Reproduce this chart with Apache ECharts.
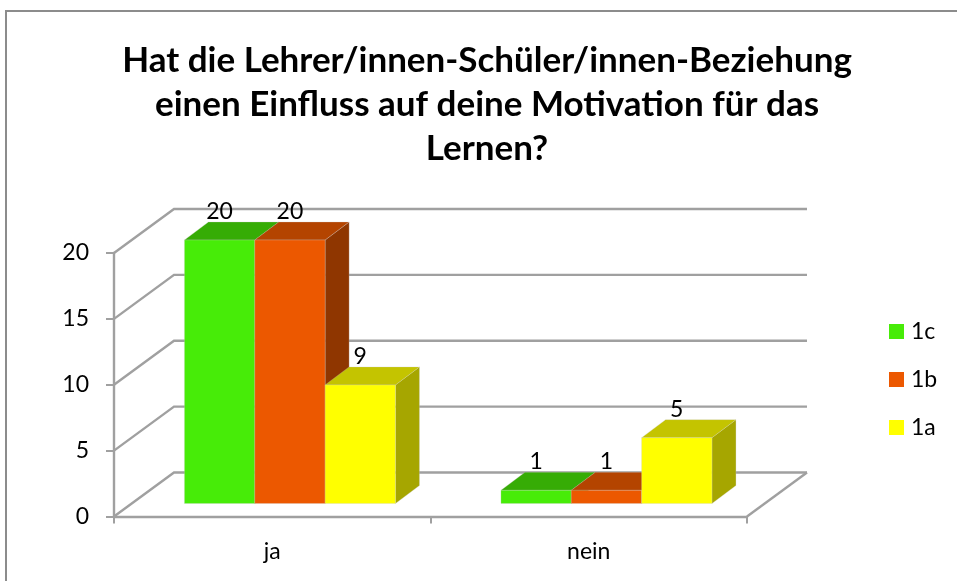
<!DOCTYPE html>
<html><head><meta charset="utf-8">
<style>html,body{margin:0;padding:0;background:#fff}#c{width:957px;height:581px}</style>
<script src="https://cdn.jsdelivr.net/npm/echarts@6/dist/echarts.min.js"></script>
</head><body><div id="c"></div>
<script>
const categories = ['ja', 'nein'];
const v1c = [20, 1];
const v1b = [20, 1];
const v1a = [9, 5];
const yTicks = [0, 5, 10, 15, 20];
const titleText = 'Hat die Lehrer/innen-Schüler/innen-Beziehung\neinen Einfluss auf deine Motivation für das\nLernen?';
const FONT = 'Lato, Carlito, Calibri, sans-serif';
const AXIS = '#a0a0a0';
const WALL = [60, -44];      // depth of the floor and back wall
const BAR_SHIFT = [17.7, -13]; // front of the bars relative to the axis plane
const BAR_DEPTH = [24, -18];
const EDGE = 'rgba(205,205,205,0.35)';
const palette = {
  '1c': { front: '#47ec08', top: '#36ac05', side: '#2b8a04' },
  '1b': { front: '#ec5800', top: '#b44400', side: '#8f3600' },
  '1a': { front: '#ffff00', top: '#c4c400', side: '#a6a600' }
};

function wallItem(params, api) {
  const cs = params.coordSys;
  const y = api.coord([0, api.value(1)])[1];
  const x0 = cs.x, x1 = cs.x + cs.width;
  const children = [{
    type: 'polyline',
    shape: { points: [[x0, y], [x0 + WALL[0], y + WALL[1]], [x1 + WALL[0], y + WALL[1]]] },
    style: { stroke: AXIS, lineWidth: 2.4, fill: null }
  }];
  if (api.value(1) === 0) {
    children.push({
      type: 'line',
      shape: { x1: x1, y1: y, x2: x1 + WALL[0], y2: y + WALL[1] },
      style: { stroke: AXIS, lineWidth: 2.4 }
    });
  }
  return { type: 'group', children: children };
}

function barRenderer(name, slot) {
  const c = palette[name];
  return function (params, api) {
    const band = api.size([1, 0])[0];
    const groupW = band * 2 / 3;
    const w = groupW / 3;
    const base = api.coord([api.value(0), 0]);
    const topP = api.coord([api.value(0), api.value(1)]);
    const l = base[0] - groupW / 2 + slot * w + BAR_SHIFT[0];
    const r = l + w;
    const b = base[1] + BAR_SHIFT[1];
    const t = topP[1] + BAR_SHIFT[1];
    const dx = BAR_DEPTH[0], dy = BAR_DEPTH[1];
    const face = (pts, fill) => ({
      type: 'polygon', shape: { points: pts },
      style: { fill: fill, stroke: EDGE, lineWidth: 0.8 }
    });
    return {
      type: 'group',
      children: [
        face([[r, b], [r + dx, b + dy], [r + dx, t + dy], [r, t]], c.side),
        face([[l, t], [r, t], [r + dx, t + dy], [l + dx, t + dy]], c.top),
        face([[l, t], [r, t], [r, b], [l, b]], c.front),
        {
          type: 'text', z2: 10,
          style: {
            text: String(api.value(1)), x: l + w / 2, y: t + dy + 1,
            align: 'center', verticalAlign: 'bottom',
            font: '23px ' + FONT, fill: '#000'
          }
        }
      ]
    };
  };
}

function barSeries(name, values, slot) {
  return {
    name: name, type: 'custom', coordinateSystem: 'cartesian2d',
    itemStyle: { color: palette[name].front },
    renderItem: barRenderer(name, slot),
    encode: { x: 0, y: 1 },
    data: values.map((v, i) => [i, v]), z: 3
  };
}

const chart = echarts.init(document.getElementById('c'), null, { renderer: 'canvas' });
chart.setOption({
  animation: false,
  backgroundColor: '#fff',
  textStyle: { fontFamily: FONT },
  title: {
    text: titleText, left: 482, top: 34, textAlign: 'center',
    textStyle: { fontFamily: FONT, fontWeight: 'bold', fontSize: 35, lineHeight: 44, color: '#000' }
  },
  legend: {
    data: ['1c', '1b', '1a'], orient: 'vertical', left: 889, top: 320,
    icon: 'rect', itemWidth: 15, itemHeight: 15, itemGap: 25, padding: 0,
    selectedMode: false,
    textStyle: { fontFamily: FONT, fontSize: 23, color: '#000', padding: [0, 0, 0, 2] }
  },
  grid: { left: 114, top: 253, width: 633, height: 263.5, containLabel: false },
  xAxis: {
    type: 'category', data: categories,
    axisLine: { show: true, lineStyle: { color: AXIS, width: 2.4 } },
    axisTick: { show: true, alignWithLabel: false, length: 7, lineStyle: { color: AXIS, width: 2 } },
    axisLabel: { fontFamily: FONT, fontSize: 23, color: '#000', margin: 24 },
    splitLine: { show: false }
  },
  yAxis: {
    type: 'value', min: 0, max: 20, interval: 5,
    axisLine: { show: true, lineStyle: { color: AXIS, width: 2.4 } },
    axisTick: { show: true, length: 8, lineStyle: { color: AXIS, width: 2 } },
    axisLabel: { fontFamily: FONT, fontSize: 23, color: '#000', margin: 25 },
    splitLine: { show: false }
  },
  graphic: [{
    type: 'polyline', silent: true, z: -1,
    shape: { points: [[6, 581], [6, 11], [957, 11]] },
    style: { stroke: '#8c8c8c', lineWidth: 2, fill: null }
  }],
  series: [
    {
      name: 'wall', type: 'custom', coordinateSystem: 'cartesian2d',
      renderItem: wallItem, encode: { x: 0, y: 1 }, z: 1,
      data: yTicks.map(v => [0, v])
    },
    barSeries('1c', v1c, 0),
    barSeries('1b', v1b, 1),
    barSeries('1a', v1a, 2)
  ]
});
</script></body></html>
